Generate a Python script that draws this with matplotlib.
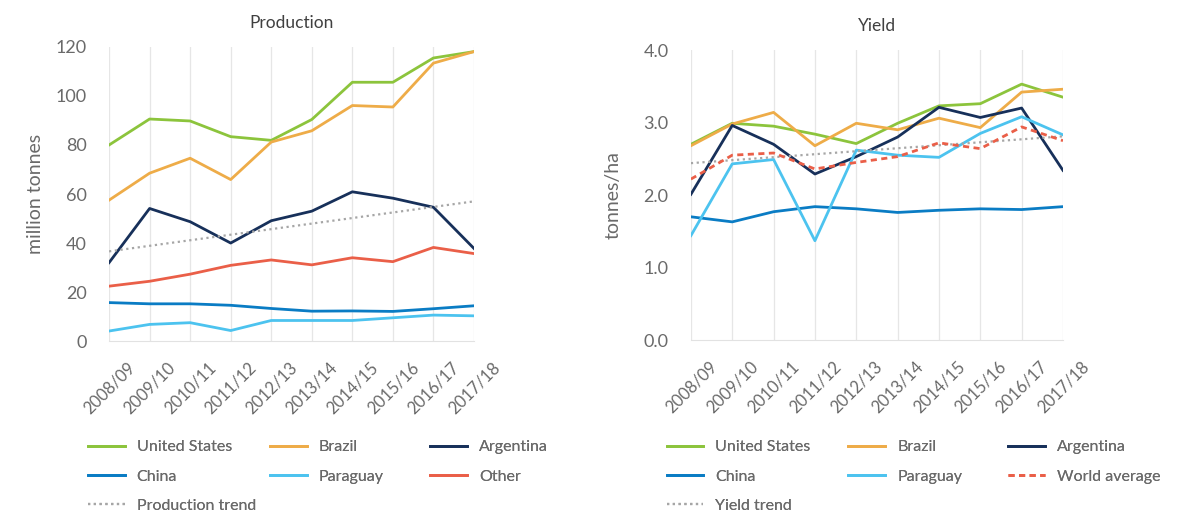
import matplotlib.pyplot as plt
from matplotlib import font_manager as fm

# Seasons on the x axis
seasons = ['2008/09', '2009/10', '2010/11', '2011/12', '2012/13',
           '2013/14', '2014/15', '2015/16', '2016/17', '2017/18']

# Production, million tonnes
prod_us = [80.0, 90.6, 89.8, 83.4, 81.9, 90.4, 105.6, 105.6, 115.5, 118.1]
prod_brazil = [57.5, 68.5, 74.6, 65.9, 81.2, 85.8, 96.1, 95.5, 113.4, 118.1]
prod_argentina = [32.0, 54.1, 48.7, 40.0, 49.1, 53.0, 60.9, 58.3, 54.6, 37.8]
prod_china = [15.7, 15.2, 15.2, 14.6, 13.3, 12.2, 12.3, 12.1, 13.2, 14.4]
prod_paraguay = [4.1, 6.8, 7.5, 4.3, 8.4, 8.4, 8.4, 9.5, 10.6, 10.3]
prod_other = [22.4, 24.4, 27.3, 30.9, 33.1, 31.1, 34.0, 32.4, 38.2, 35.7]
prod_trend = [36.6, 57.0]  # first and last season

# Yield, tonnes/ha
yld_us = [2.70, 2.99, 2.95, 2.84, 2.71, 2.99, 3.23, 3.26, 3.53, 3.35]
yld_brazil = [2.68, 2.98, 3.14, 2.68, 2.99, 2.90, 3.06, 2.93, 3.42, 3.46]
yld_argentina = [2.01, 2.96, 2.70, 2.29, 2.53, 2.80, 3.21, 3.07, 3.20, 2.34]
yld_china = [1.70, 1.63, 1.77, 1.84, 1.81, 1.76, 1.79, 1.81, 1.80, 1.84]
yld_paraguay = [1.44, 2.43, 2.49, 1.37, 2.62, 2.55, 2.52, 2.85, 3.08, 2.83]
yld_world = [2.22, 2.55, 2.58, 2.36, 2.45, 2.53, 2.72, 2.64, 2.94, 2.75]
yld_trend = [2.44, 2.81]

# Colours
C_US = '#8cc43c'
C_BR = '#eeac48'
C_AR = '#17305a'
C_CN = '#0a7cc4'
C_PY = '#4cc3ef'
C_OT = '#ea5f48'
C_TR = '#a6a6a6'
TXT = '#6a6a6a'

names = [f.name for f in fm.fontManager.ttflist]
FONT = 'Lato' if 'Lato' in names else 'DejaVu Sans'
plt.rcParams['font.family'] = [FONT, 'DejaVu Sans']

fig = plt.figure(figsize=(11.79, 5.16), dpi=100)
ax1 = fig.add_axes([0.0925, 0.339, 0.3095, 0.570])
ax2 = fig.add_axes([0.586, 0.341, 0.3156, 0.562])

x = list(range(len(seasons)))
LW = 2.0


def style(ax, ymax, step, fmt, title, ylabel, label_x):
    n = int(round(ymax / step)) + 1
    ax.set_xlim(0, len(seasons) - 1)
    ax.set_ylim(0, ymax)
    ax.set_yticks([i * step for i in range(n)])
    ax.set_yticklabels([fmt.format(i * step) for i in range(n)])
    ax.set_xticks(x)
    ax.set_xticklabels(seasons, rotation=45, ha='center', va='top')
    ax.tick_params(axis='y', length=0, pad=16, labelsize=13, labelcolor=TXT)
    ax.tick_params(axis='x', length=0, pad=13, labelsize=12, labelcolor=TXT)
    for s in ['top', 'right', 'left']:
        ax.spines[s].set_visible(False)
    ax.spines['bottom'].set_color('#e2e2e2')
    ax.grid(axis='x', color='#e6e6e6', lw=0.9)
    ax.set_axisbelow(True)
    ax.set_title(title, fontsize=12.5, color='#404040', pad=14)
    ax.set_ylabel(ylabel, fontsize=14, color=TXT)
    ax.yaxis.set_label_coords(label_x, 0.5)


def legend_col(handles, labels, xfig):
    lg = fig.legend(handles, labels, loc='upper left', bbox_to_anchor=(xfig, 0.147),
                    frameon=False, fontsize=11.5, handlelength=2.3, handletextpad=0.75,
                    labelspacing=0.95, borderpad=0, borderaxespad=0)
    for t in lg.get_texts():
        t.set_color(TXT)
    fig.add_artist(lg)


# Production panel
l_us, = ax1.plot(x, prod_us, color=C_US, lw=LW)
l_br, = ax1.plot(x, prod_brazil, color=C_BR, lw=LW)
l_ar, = ax1.plot(x, prod_argentina, color=C_AR, lw=LW)
l_cn, = ax1.plot(x, prod_china, color=C_CN, lw=LW)
l_py, = ax1.plot(x, prod_paraguay, color=C_PY, lw=LW)
l_ot, = ax1.plot(x, prod_other, color=C_OT, lw=LW)
l_tr, = ax1.plot([x[0], x[-1]], prod_trend, color=C_TR, lw=1.6, ls=(0, (1, 1.6)))
style(ax1, 120, 20, '{:.0f}', 'Production', 'million tonnes', -0.178)

legend_col([l_us, l_cn, l_tr], ['United States', 'China', 'Production trend'], 0.0745)
legend_col([l_br, l_py], ['Brazil', 'Paraguay'], 0.229)
legend_col([l_ar, l_ot], ['Argentina', 'Other'], 0.365)

# Yield panel
m_us, = ax2.plot(x, yld_us, color=C_US, lw=LW)
m_br, = ax2.plot(x, yld_brazil, color=C_BR, lw=LW)
m_ar, = ax2.plot(x, yld_argentina, color=C_AR, lw=LW)
m_cn, = ax2.plot(x, yld_china, color=C_CN, lw=LW)
m_py, = ax2.plot(x, yld_paraguay, color=C_PY, lw=LW)
m_tr, = ax2.plot([x[0], x[-1]], yld_trend, color=C_TR, lw=1.6, ls=(0, (1, 1.6)))
m_wa, = ax2.plot(x, yld_world, color=C_OT, lw=LW, ls=(0, (2.2, 1.6)))
style(ax2, 4.0, 1.0, '{:.1f}', 'Yield', 'tonnes/ha', -0.187)

legend_col([m_us, m_cn, m_tr], ['United States', 'China', 'Yield trend'], 0.5655)
legend_col([m_br, m_py], ['Brazil', 'Paraguay'], 0.7195)
legend_col([m_ar, m_wa], ['Argentina', 'World average'], 0.855)

fig.savefig('out.png', dpi=100)
